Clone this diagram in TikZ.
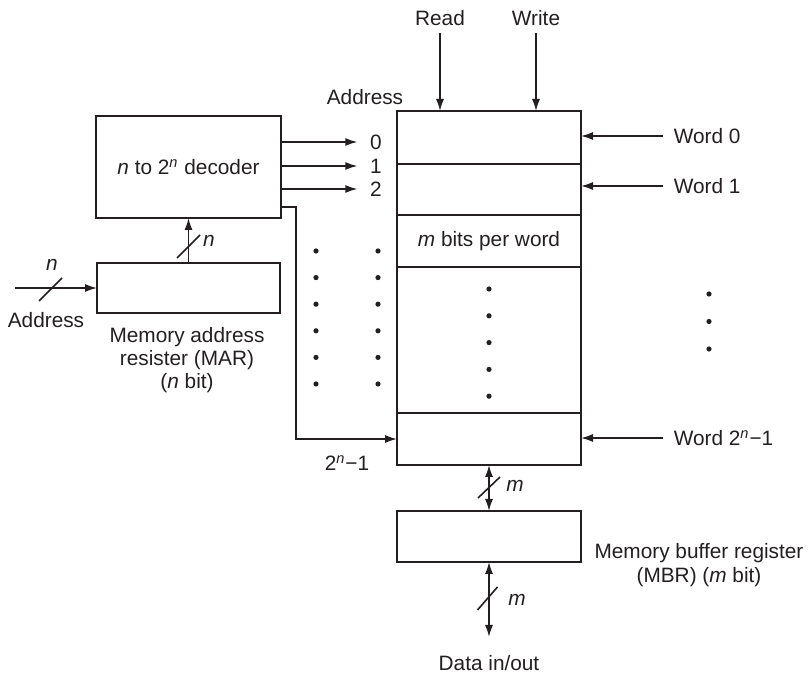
\documentclass[tikz,border=0pt]{standalone}
\usepackage{fontspec}
\setmainfont{Liberation Sans}
\usetikzlibrary{arrows.meta,calc}
\definecolor{ink}{HTML}{231F20}
\begin{document}
\begin{tikzpicture}[x=0.5pt,y=-0.5pt, line width=0.8pt, color=ink,
  font=\fontsize{10.4}{12.5}\selectfont,
  box/.style={draw, inner sep=0pt, outer sep=0pt},
  lbl/.style={inner sep=0pt},
  arr/.style={-{Latex[length=6pt,width=4pt]}},
  darr/.style={{Latex[length=6pt,width=4pt]}-{Latex[length=6pt,width=4pt]}},
  dot/.style={circle, fill=ink, draw=none, inner sep=0pt, minimum size=2.6pt},
  slash/.style={line width=0.8pt}]
\useasboundingbox (0,0) rectangle (810,673);

% memory array
\node[box, minimum width=92pt, minimum height=177pt] (mem) at (489,288) {};
\node[box, minimum width=92pt, minimum height=26.5pt] (r0) at (489,137.5) {};
\node[box, minimum width=92pt, minimum height=25.5pt] (r1) at (489,189.5) {};
\node[box, minimum width=92pt, minimum height=26pt] (r2) at (489,241) {\textit{m} bits per word};
\node[box, minimum width=92pt, minimum height=73pt] (rd) at (489,340) {};
\node[box, minimum width=92pt, minimum height=26pt] (rn) at (489,439) {};

% decoder, MAR, MBR
\node[box, minimum width=92.5pt, minimum height=51pt] (dec) at (188.5,167) {\textit{n} to 2\textsuperscript{\textit{n}} decoder};
\node[box, minimum width=91.5pt, minimum height=25pt] (mar) at (188.5,288) {};
\node[box, minimum width=92pt, minimum height=25.5pt] (mbr) at (489,536.5) {};

% read / write
\node[lbl] (readl) at (440,18) {Read};
\node[lbl] (writel) at (536,18) {Write};
\draw[arr] ([yshift=-3.5pt]readl.south) -- (readl.south |- mem.north);
\draw[arr] ([yshift=-3.5pt]writel.south) -- (writel.south |- mem.north);

% words
\node[lbl, anchor=west] (w0) at (673,136) {Word 0};
\node[lbl, anchor=west] (w1) at (673,186) {Word 1};
\node[lbl, anchor=west] (wn) at (673,438) {Word 2\textsuperscript{\textit{n}}−1};
\draw[arr] ([xshift=-5pt]w0.west) -- (w0.west -| r0.east);
\draw[arr] ([xshift=-5pt]w1.west) -- (w1.west -| r1.east);
\draw[arr] ([xshift=-5pt]wn.west) -- (wn.west -| rn.east);

% decoder outputs
\node[lbl] (addr) at (365,97) {Address};
\node[lbl] (a0) at (376,142) {0};
\node[lbl] (a1) at (376,166) {1};
\node[lbl] (a2) at (376,189) {2};
\draw[arr] (dec.east |- a0) -- ([xshift=-6pt]a0.west);
\draw[arr] (dec.east |- a1) -- ([xshift=-6pt]a1.west);
\draw[arr] (dec.east |- a2) -- ([xshift=-6pt]a2.west);
\coordinate (d3) at ($(dec.south east)+(0,-11)$);
\draw[arr] (d3) -- ++(15,0) |- (rn.west);
\node[lbl] (alast) at (347,463) {2\textsuperscript{\textit{n}}−1};

% dots
\foreach \k in {0,...,5} {
  \node[dot] (dl\k) at (316,{251+26.6*\k}) {};
  \node[dot] (dm\k) at (378,{251+26.6*\k}) {};
}
\foreach \k in {0,...,4} \node[dot] (di\k) at (489,{289+26.8*\k}) {};
\foreach \k in {0,...,2} \node[dot] (dr\k) at (709,{294+27.5*\k}) {};

% MAR input
\coordinate (ain) at (15,288);
\draw[arr] (ain) -- (mar.west);
\coordinate (s1) at (50.5,289.5);
\draw[slash] ($(s1)+(-11.5,11.5)$) -- ($(s1)+(11.5,-11.5)$);
\node[lbl] (nin) at (52,265) {\textit{n}};
\node[lbl] (addrin) at (46,320) {Address};
\node[lbl, align=center, font=\fontsize{10.4}{11.6}\selectfont] (marl) at (187,360) {Memory address\\resister (MAR)\\(\textit{n} bit)};

% MAR -> decoder
\draw[arr] (mar.north) -- (dec.south);
\coordinate (s2) at (188.5,246.5);
\draw[slash] ($(s2)+(-11.5,11.5)$) -- ($(s2)+(11.5,-11.5)$);
\node[lbl] (nmar) at (209,241) {\textit{n}};

% memory <-> MBR
\draw[darr] (mem.south) -- (mbr.north);
\coordinate (s3) at (489,487.5);
\draw[slash] ($(s3)+(-11,10.5)$) -- ($(s3)+(11,-10.5)$);
\node[lbl] (m1) at (515,486) {\textit{m}};
\node[lbl, align=center, font=\fontsize{10.4}{12}\selectfont] (mbrl) at (699,565) {Memory buffer register\\(MBR) (\textit{m} bit)};

% data in/out
\coordinate (dout) at (489,637);
\draw[darr] (mbr.south) -- (dout);
\coordinate (s4) at (487.5,598.5);
\draw[slash] ($(s4)+(-10,11.5)$) -- ($(s4)+(10,-11.5)$);
\node[lbl] (m2) at (517,600) {\textit{m}};
\node[lbl] (datal) at (489,663) {Data in/out};
\end{tikzpicture}
\end{document}
